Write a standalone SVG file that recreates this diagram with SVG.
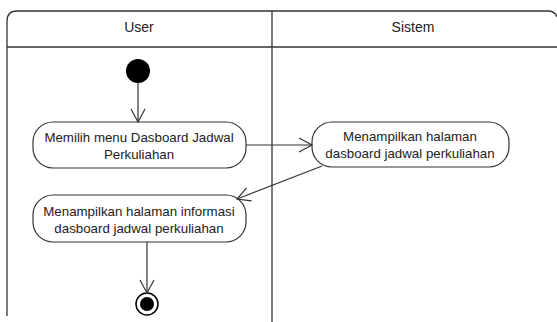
<svg xmlns="http://www.w3.org/2000/svg" width="557" height="322" viewBox="0 0 557 322">
<style>
.frame{fill:none;stroke:#333;stroke-width:1.3}
.node{fill:#fff;stroke:#333;stroke-width:1.2}
.t{font-family:"Liberation Sans",Arial,sans-serif;font-size:13.3px;fill:#222;text-anchor:middle}
.h{font-family:"Liberation Sans",Arial,sans-serif;font-size:14px;fill:#222;text-anchor:middle}
.c{fill:none;stroke:#333;stroke-width:1.2}
</style>
<defs>
<marker id="arr" viewBox="0 0 16 16" refX="14" refY="8" markerWidth="16" markerHeight="16" markerUnits="userSpaceOnUse" orient="auto">
<polyline points="1,1 14,8 1,15" fill="none" stroke="#333" stroke-width="1.2"/>
</marker>
</defs>
<rect width="557" height="322" fill="#fff"/>
<g id="swimlanes">
<path class="frame" d="M7,316 V21 Q7,11 17,11 H548 Q555,11 557,17"/>
<line class="frame" x1="7" y1="47" x2="557" y2="47"/>
<line class="frame" x1="272" y1="11" x2="272" y2="322"/>
<text class="h" x="139" y="32">User</text>
<text class="h" x="413" y="32">Sistem</text>
</g>
<g id="start"><circle cx="138" cy="71" r="12" fill="#000"/></g>
<g id="n1">
<rect class="node" x="33" y="122" width="213" height="46" rx="20"/>
<text class="t" x="139" y="142">Memilih menu Dasboard Jadwal</text>
<text class="t" x="139" y="159">Perkuliahan</text>
</g>
<g id="n2">
<rect class="node" x="312" y="122" width="197" height="45" rx="20"/>
<text class="t" x="410" y="141">Menampilkan halaman</text>
<text class="t" x="410" y="158">dasboard jadwal perkuliahan</text>
</g>
<g id="n3">
<rect class="node" x="33" y="195" width="213" height="47" rx="20"/>
<text class="t" x="139" y="216">Menampilkan halaman informasi</text>
<text class="t" x="139" y="233">dasboard jadwal perkuliahan</text>
</g>
<g id="end">
<circle cx="147" cy="304" r="11" fill="#fff" stroke="#000" stroke-width="1.5"/>
<circle cx="147" cy="304" r="7" fill="#000"/>
</g>
<g id="connectors">
<line class="c" x1="138" y1="83" x2="138" y2="122" marker-end="url(#arr)"/>
<line class="c" x1="246" y1="145" x2="312" y2="145" marker-end="url(#arr)"/>
<line class="c" x1="322" y1="166" x2="237" y2="199" marker-end="url(#arr)"/>
<line class="c" x1="147" y1="242" x2="147" y2="293" marker-end="url(#arr)"/>
</g>
</svg>
